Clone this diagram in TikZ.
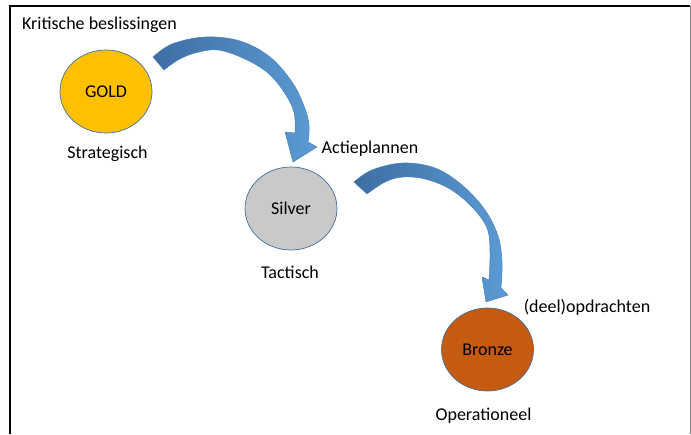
\documentclass[tikz,border=0pt]{standalone}
\usepackage{fontspec}
\setmainfont{Carlito}
\usetikzlibrary{positioning,shapes.geometric}
\definecolor{goldFill}{HTML}{FFC000}
\definecolor{silverFill}{HTML}{C9C9C9}
\definecolor{bronzeFill}{HTML}{C55A11}
\definecolor{rimBlue}{HTML}{41719C}
\definecolor{arrowDark}{HTML}{3E6DA3}
\definecolor{arrowLight}{HTML}{5B9BD5}
\tikzset{
  levelnode/.style={draw=rimBlue, line width=0.7pt, ellipse, minimum width=92pt,
                    minimum height=83pt, inner sep=0pt, font=\fontsize{18}{21}\selectfont},
  tagnode/.style={anchor=base, inner sep=0pt, font=\fontsize{18}{21}\selectfont},
  flowarrow/.style={draw=arrowLight!85!black, line width=0.5pt,
                    left color=arrowDark, right color=arrowLight},
}

\begin{document}
\begin{tikzpicture}[x=1pt, y=-1pt]
\useasboundingbox (0,0) rectangle (691,434);

%% Frame
\draw[line width=2pt] (10,434) -- (10,6) -- (690,6);
\draw[line width=1pt, gray] (690,6) -- (690,434);

%% Levels
\node[levelnode, fill=goldFill] (gold) at (106,91.5) {GOLD};
\node[levelnode, fill=silverFill] (silver) at (291,208.5) {Silver};
\node[levelnode, fill=bronzeFill] (bronze) at (487.5,349.5) {Bronze};

%% Texts
\node[tagnode] (beslis) at (99.5,29) {Kritische beslissingen};
\node[tagnode] (strat) at (107.5,158) {Strategisch};
\node[tagnode] (actie) at (370,153) {Actieplannen};
\node[tagnode] (tact) at (290,278) {Tactisch};
\node[tagnode] (deel) at (587,312) {(deel)opdrachten};
\node[tagnode] (oper) at (483.5,420) {Operationeel};

%% Curved arrows
\shade[flowarrow] plot[smooth, tension=0.6] coordinates {(153,57) (172,44) (205,37)
    (240,41) (270,57) (292,82) (304,106) (309,125) (308,142)}
  -- (317,147) -- (293,162) -- (285,132)
  -- plot[smooth, tension=0.6] coordinates {(295,133) (294,112) (284,92) (268,73)
    (245,59) (218,50) (195,53) (178,60) (164,70)} -- cycle;
\shade[flowarrow] plot[smooth, tension=0.6] coordinates {(354,182) (372,170) (403,163)
    (435,168) (462,185) (485,210) (498,236) (502,262) (501,288)}
  -- (508,295) -- (486,302) -- (482,277)
  -- plot[smooth, tension=0.6] coordinates {(489,280) (490,252) (487,228) (472,207)
    (450,189) (425,179) (403,177) (385,182) (367,194)} -- cycle;
\end{tikzpicture}
\end{document}
